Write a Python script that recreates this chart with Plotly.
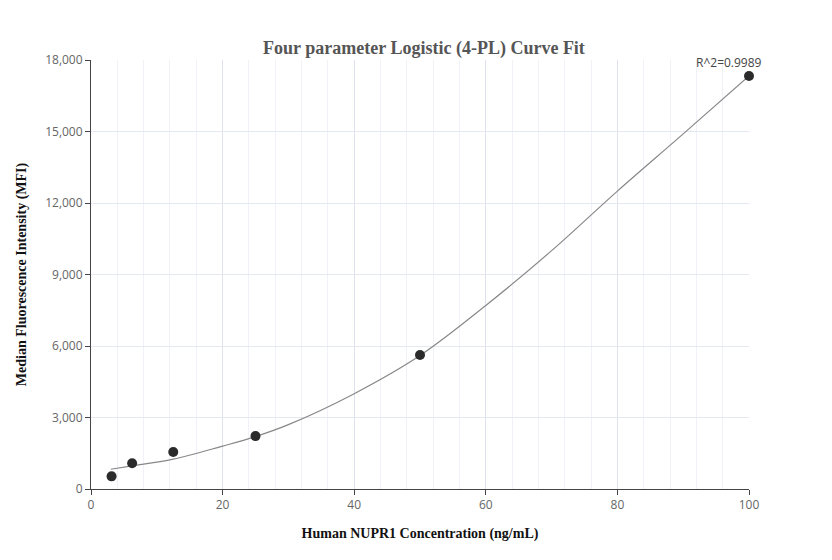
import plotly.graph_objects as go

# standards (ng/mL) and measured MFI
conc = [3.125, 6.25, 12.5, 25, 50, 100]
mfi = [530, 1080, 1550, 2220, 5620, 17330]

# fitted curve
curve_x = [3, 6, 12.5, 20, 25, 30, 40, 50, 60, 70, 80, 90, 100]
curve_y = [830, 960, 1250, 1800, 2200, 2700, 4000, 5600, 7700, 10000, 12500, 14900, 17330]

fig = go.Figure()
fig.add_trace(go.Scatter(x=curve_x, y=curve_y, mode='lines', line=dict(color='#888888', width=1.2, shape='spline'),
                         hoverinfo='skip'))
fig.add_trace(go.Scatter(x=conc, y=mfi, mode='markers', marker=dict(color='#2b2b2b', size=10), cliponaxis=False))

fig.add_annotation(x=100, y=mfi[-1], text='R^2=0.9989', showarrow=False, yshift=13, xshift=-20,
                   font=dict(family='Open Sans', size=12, color='#444'))

fig.update_layout(
    width=832, height=560, showlegend=False, plot_bgcolor='white', paper_bgcolor='white',
    margin=dict(l=75, r=91, t=52, b=79),
    title=dict(text='<b>Four parameter Logistic (4-PL) Curve Fit</b>', x=0.5, y=0.94,
               font=dict(family='Liberation Serif', size=18, color='#555')),
    font=dict(family='Open Sans', size=12, color='#666'),
)
fig.update_xaxes(range=[0, 100], dtick=20, showline=True, linecolor='#444', ticks='outside', ticklen=5,
                 tickcolor='#444', gridcolor='#dde3ee', minor=dict(dtick=4, showgrid=True, gridcolor='#f0f2f7'),
                 zeroline=False,
                 title=dict(text='<b>Human NUPR1 Concentration (ng/mL)</b>',
                            font=dict(family='Liberation Serif', size=14, color='#111')))
fig.update_yaxes(range=[0, 18000], dtick=3000, tickformat=',', showline=True, linecolor='#444', ticks='outside',
                 ticklen=5, tickcolor='#444', gridcolor='#e4e8f0', zeroline=False,
                 title=dict(text='<b>Median Fluorescence Intensity (MFI)</b>',
                            font=dict(family='Liberation Serif', size=14, color='#111')))

fig.write_html("out.html")
